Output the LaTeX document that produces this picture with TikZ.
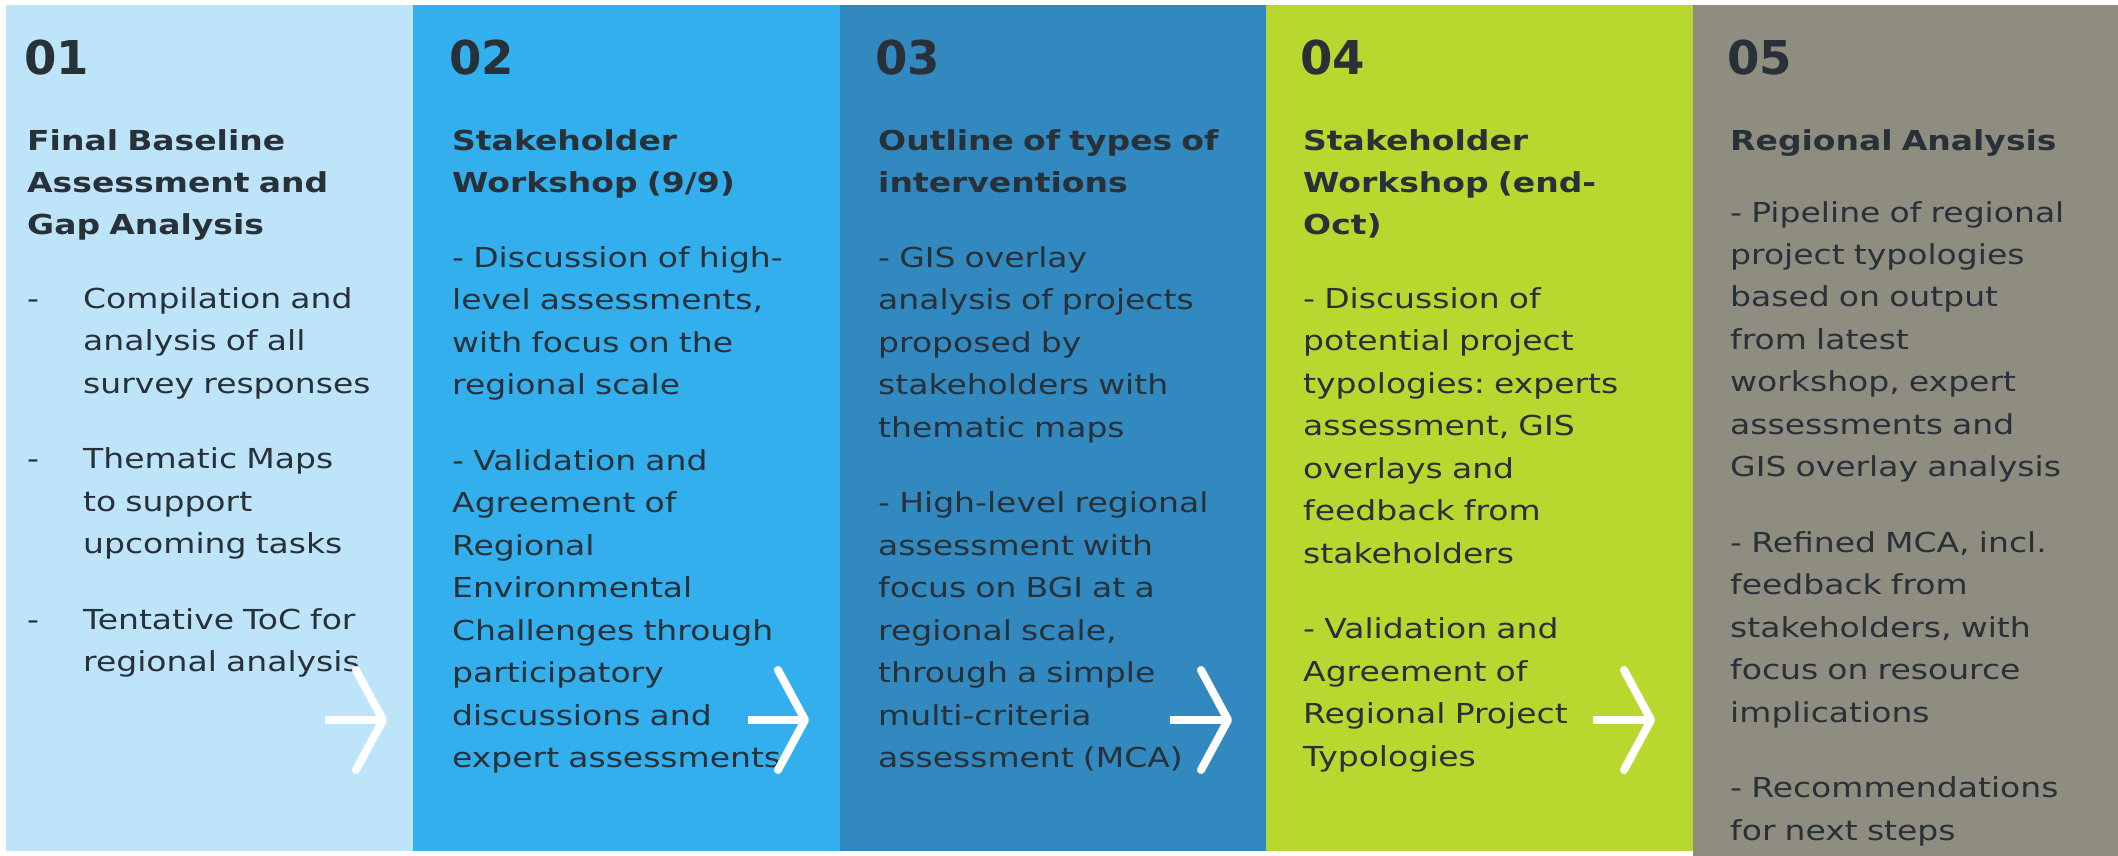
\documentclass[tikz,border=0pt]{standalone}
\usepackage{fontspec}
\setmainfont{DejaVu Sans}[FakeStretch=1.2]
\newfontfamily\numfont{DejaVu Sans}
\usetikzlibrary{positioning}
\usetikzlibrary{arrows.meta}
\frenchspacing
\definecolor{phaseA}{RGB}{190,228,250}
\definecolor{phaseB}{RGB}{51,175,238}
\definecolor{phaseC}{RGB}{50,137,192}
\definecolor{phaseD}{RGB}{184,216,48}
\definecolor{phaseE}{RGB}{143,141,128}
\definecolor{ink}{RGB}{40,48,56}
\newcommand \itemdash {\makebox[56pt][l]{-}}
\newcommand \itemgap {\hspace*{56pt}}
\tikzset{
	phase/.style={
		fill=#1,
		inner sep=0pt,
		outer sep=0pt,
		minimum height=846pt
	},
	stepnum/.style={
		anchor=base west,
		inner sep=0pt,
		text=ink,
		font=\numfont\bfseries\fontsize{46.6}{50}\selectfont
	},
	steptitle/.style={
		anchor=base west,
		inner sep=0pt,
		text width=500pt,
		align=left,
		text=ink,
		font=\bfseries\fontsize{27.5}{42.5}\selectfont
	},
	stepbody/.style={
		steptitle,
		font=\fontsize{27.5}{42.5}\selectfont
	},
	advance/.style={
		draw=white,
		line width=8pt,
		-{Straight Barb[length=27pt,width=100pt,round]}
	}
}

\begin{document}
\begin{tikzpicture} [x=1pt, y=-1pt]
	\useasboundingbox (0,0) rectangle (2118,856);

	\node [phase=phaseA, minimum width=407pt, anchor=north west] (col1) at (6,5) {};
	\node [phase=phaseB, minimum width=427pt, right=0pt of col1] (col2) {};
	\node [phase=phaseC, minimum width=426pt, right=0pt of col2] (col3) {};
	\node [phase=phaseD, minimum width=427pt, right=0pt of col3] (col4) {};
	\node [phase=phaseE, minimum width=425pt, minimum height=851pt, anchor=north west] (col5) at (col4.north east) {};

	\node [stepnum] (num1) at (24,75) {01};
	\node [stepnum] (num2) at (449,75) {02};
	\node [stepnum] (num3) at (875,75) {03};
	\node [stepnum] (num4) at (1300,75) {04};
	\node [stepnum] (num5) at (1727,75) {05};

	\node [steptitle] (title1) at (27,150) {Final Baseline\\Assessment and\\Gap Analysis};
	\node [steptitle] (title2) at (452,150) {Stakeholder\\Workshop (9/9)};
	\node [steptitle] (title3) at (878,150) {Outline of types of\\interventions};
	\node [steptitle] (title4) at (1303,150) {Stakeholder\\Workshop (end-\\Oct)};
	\node [steptitle] (title5) at (1730,150) {Regional Analysis};

	\node [stepbody] (body1) at (27,308) {\itemdash Compilation and\\\itemgap analysis of all\\\itemgap survey responses\\[33pt]
		\itemdash Thematic Maps\\\itemgap to support\\\itemgap upcoming tasks\\[33pt]
		\itemdash Tentative ToC for\\\itemgap regional analysis};
	\node [stepbody] (body2) at (452,267) {- Discussion of high-\\level assessments,\\with focus on the\\regional scale\\[33pt]
		- Validation and\\Agreement of\\Regional\\Environmental\\Challenges through\\participatory\\discussions and\\expert assessments};
	\node [stepbody] (body3) at (878,267) {- GIS overlay\\analysis of projects\\proposed by\\stakeholders with\\thematic maps\\[33pt]
		- High-level regional\\assessment with\\focus on BGI at a\\regional scale,\\through a simple\\multi-criteria\\assessment (MCA)};
	\node [stepbody] (body4) at (1303,308) {- Discussion of\\potential project\\typologies: experts\\assessment, GIS\\overlays and\\feedback from\\stakeholders\\[33pt]
		- Validation and\\Agreement of\\Regional Project\\Typologies};
	\node [stepbody] (body5) at (1730,222) {- Pipeline of regional\\project typologies\\based on output\\from latest\\workshop, expert\\assessments and\\GIS overlay analysis\\[33pt]
		- Refined MCA, incl.\\feedback from\\stakeholders, with\\focus on resource\\implications\\[33pt]
		- Recommendations\\for next steps};

	\coordinate (tail1) at (325,720);
	\coordinate (head1) at (387,720);
	\coordinate (tail2) at (748,720);
	\coordinate (head2) at (809,720);
	\coordinate (tail3) at (1170,720);
	\coordinate (head3) at (1232,720);
	\coordinate (tail4) at (1593,720);
	\coordinate (head4) at (1655,720);
	\draw [advance] (tail1) -- (head1);
	\draw [advance] (tail2) -- (head2);
	\draw [advance] (tail3) -- (head3);
	\draw [advance] (tail4) -- (head4);
\end{tikzpicture}
\end{document}
